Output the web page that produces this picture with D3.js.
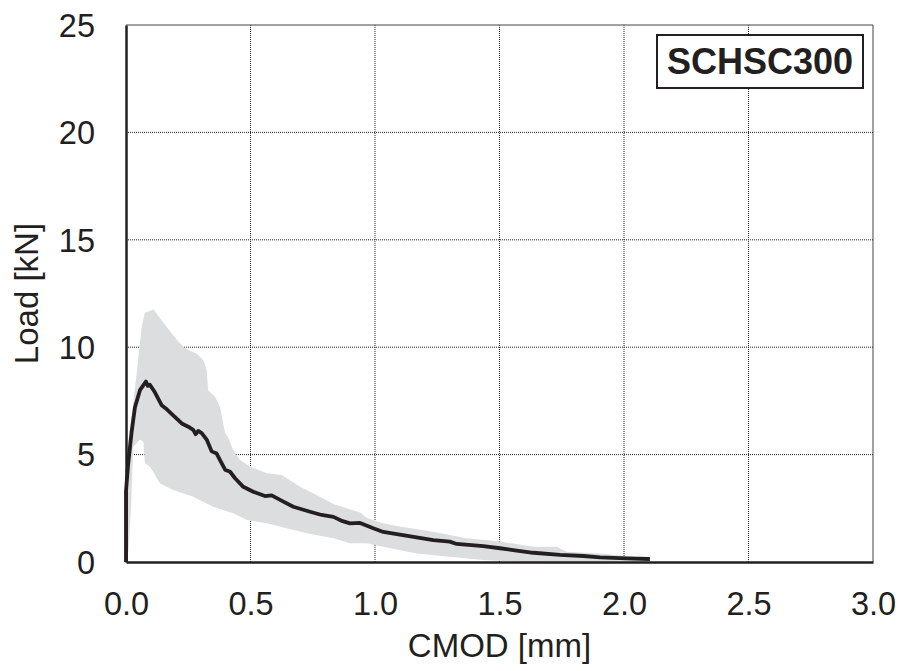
<!DOCTYPE html>
<html>
<head>
<meta charset="utf-8">
<script src="https://cdn.jsdelivr.net/npm/d3@7/dist/d3.min.js"></script>
<style>
  html, body { margin: 0; padding: 0; background: #fff; }
  svg text { font-family: "Liberation Sans", Arial, sans-serif; fill: #231f20; }
</style>
</head>
<body>
<svg id="chart" width="904" height="671"></svg>
<script>
// Mean load–CMOD curve [CMOD mm, load kN]
const meanCurve = [
  [0.000, 0.0], [0.000, 3.3], [0.009, 4.6], [0.023, 6.1], [0.036, 7.2], [0.056, 8.0],
  [0.080, 8.4], [0.088, 8.2], [0.096, 8.25], [0.116, 7.9], [0.143, 7.3], [0.160, 7.15],
  [0.183, 6.9], [0.224, 6.45], [0.250, 6.3], [0.270, 6.15], [0.280, 5.95], [0.290, 6.1],
  [0.304, 6.0], [0.324, 5.7], [0.344, 5.15], [0.364, 5.05], [0.384, 4.6], [0.398, 4.3],
  [0.418, 4.2], [0.438, 3.9], [0.471, 3.5], [0.511, 3.27], [0.558, 3.07], [0.585, 3.1],
  [0.632, 2.81], [0.672, 2.57], [0.739, 2.34], [0.786, 2.19], [0.833, 2.1], [0.870, 1.9],
  [0.900, 1.8], [0.940, 1.82], [0.993, 1.57], [1.033, 1.4], [1.100, 1.28], [1.167, 1.15],
  [1.234, 1.02], [1.300, 0.95], [1.328, 0.84], [1.435, 0.74], [1.502, 0.64], [1.569, 0.53],
  [1.636, 0.43], [1.743, 0.33], [1.837, 0.28], [1.904, 0.22], [2.010, 0.17], [2.104, 0.14]
];

// Upper envelope of the scatter band [CMOD mm, load kN]
const bandUpper = [
  [0.000, 0.4], [0.003, 5.1], [0.023, 6.8], [0.043, 8.8], [0.063, 10.95], [0.076, 11.6],
  [0.110, 11.75], [0.163, 10.95], [0.204, 10.35], [0.237, 9.95], [0.284, 9.7], [0.310, 9.4],
  [0.324, 8.95], [0.330, 8.0], [0.357, 7.7], [0.378, 7.2], [0.398, 6.0], [0.410, 5.8],
  [0.431, 5.2], [0.458, 4.75], [0.498, 4.45], [0.565, 4.13], [0.625, 4.05], [0.699, 3.5],
  [0.779, 3.04], [0.833, 2.7], [0.940, 2.3], [0.967, 2.05], [1.033, 1.8], [1.100, 1.65],
  [1.234, 1.41], [1.368, 1.1], [1.502, 0.95], [1.636, 0.71], [1.730, 0.71], [1.770, 0.48],
  [1.904, 0.40], [2.040, 0.25], [2.100, 0.13]
];

// Lower envelope of the scatter band [CMOD mm, load kN]
const bandLower = [
  [0.000, 0.4], [0.010, 0.5], [0.020, 2.5], [0.029, 5.35], [0.056, 5.7], [0.070, 5.6],
  [0.076, 4.6], [0.096, 4.45], [0.137, 3.66], [0.190, 3.35], [0.270, 3.04], [0.350, 2.57],
  [0.431, 2.27], [0.485, 1.96], [0.565, 1.8], [0.645, 1.57], [0.726, 1.34], [0.833, 1.1],
  [0.900, 0.87], [0.967, 0.87], [1.033, 0.71], [1.167, 0.40], [1.300, 0.25], [1.435, 0.09],
  [1.570, 0.01], [1.800, 0.0], [2.100, 0.0]
];

const xTicks = [0.0, 0.5, 1.0, 1.5, 2.0, 2.5, 3.0];
const yTicks = [0, 5, 10, 15, 20, 25];
const xTitle = "CMOD [mm]";
const yTitle = "Load [kN]";
const panelLabel = "SCHSC300";

const svg = d3.select("#chart");
const margin = { left: 126, top: 25, right: 904 - 873, bottom: 671 - 562 };
const W = 904 - margin.left - margin.right;
const H = 671 - margin.top - margin.bottom;

const x = d3.scaleLinear().domain([0, 3]).range([margin.left, margin.left + W]);
const y = d3.scaleLinear().domain([0, 25]).range([margin.top + H, margin.top]);

// Gridlines (dotted)
const grid = svg.append("g");
grid.selectAll("line.v").data(xTicks.slice(1, -1)).join("line")
  .attr("x1", d => x(d)).attr("x2", d => x(d))
  .attr("y1", y(0)).attr("y2", y(25))
  .attr("stroke", "#222").attr("stroke-width", 1).attr("stroke-dasharray", "1,1");
grid.selectAll("line.h").data(yTicks.slice(1, -1)).join("line")
  .attr("x1", x(0)).attr("x2", x(3))
  .attr("y1", d => y(d)).attr("y2", d => y(d))
  .attr("stroke", "#222").attr("stroke-width", 1).attr("stroke-dasharray", "1,1");

// Top and right frame (thin)
svg.append("line").attr("x1", x(0)).attr("x2", x(3)).attr("y1", y(25)).attr("y2", y(25))
  .attr("stroke", "#444").attr("stroke-width", 1);
svg.append("line").attr("x1", x(3)).attr("x2", x(3)).attr("y1", y(25)).attr("y2", y(0))
  .attr("stroke", "#444").attr("stroke-width", 1);

// Scatter band: upper edge forward, lower edge backward
const bandPts = bandUpper.concat(bandLower.slice().reverse());
svg.append("path")
  .attr("d", d3.line().x(d => x(d[0])).y(d => y(d[1]))(bandPts) + "Z")
  .attr("fill", "#dcdddf").attr("stroke", "none");

// Mean curve
svg.append("path")
  .attr("d", d3.line().x(d => x(d[0])).y(d => y(d[1]))(meanCurve))
  .attr("fill", "none").attr("stroke", "#231f20").attr("stroke-width", 3.8)
  .attr("stroke-linejoin", "round").attr("stroke-linecap", "butt");

// Axes
const xAxis = svg.append("g").attr("transform", `translate(0,${y(0)})`)
  .call(d3.axisBottom(x).tickValues(xTicks).tickFormat(d3.format(".1f")).tickSize(0).tickPadding(30));
const yAxis = svg.append("g").attr("transform", `translate(${x(0)},0)`)
  .call(d3.axisLeft(y).tickValues(yTicks).tickFormat(d3.format("d")).tickSize(0).tickPadding(31));
[xAxis, yAxis].forEach(a => {
  a.select(".domain").attr("stroke", "#231f20").attr("stroke-width", 2.5);
  a.selectAll("text").attr("font-size", 32.5).attr("fill", "#231f20")
    .style("font-family", "'Liberation Sans', Arial, sans-serif");
});
xAxis.selectAll("text").attr("dy", "0.71em");
yAxis.selectAll("text").attr("dy", "0.35em");

// Axis titles
svg.append("text").attr("x", x(1.5)).attr("y", 657)
  .attr("text-anchor", "middle").attr("font-size", 33).text(xTitle);
svg.append("text").attr("transform", `translate(38,${y(12.5)}) rotate(-90)`)
  .attr("text-anchor", "middle").attr("font-size", 33).text(yTitle);

// Panel label box
const lab = svg.append("g");
lab.append("rect").attr("x", 657).attr("y", 35).attr("width", 206).attr("height", 53)
  .attr("fill", "#fff").attr("stroke", "#231f20").attr("stroke-width", 2);
lab.append("text").attr("x", 760).attr("y", 73.5).attr("text-anchor", "middle")
  .attr("font-size", 36).attr("font-weight", "bold").text(panelLabel);
</script>
</body>
</html>
